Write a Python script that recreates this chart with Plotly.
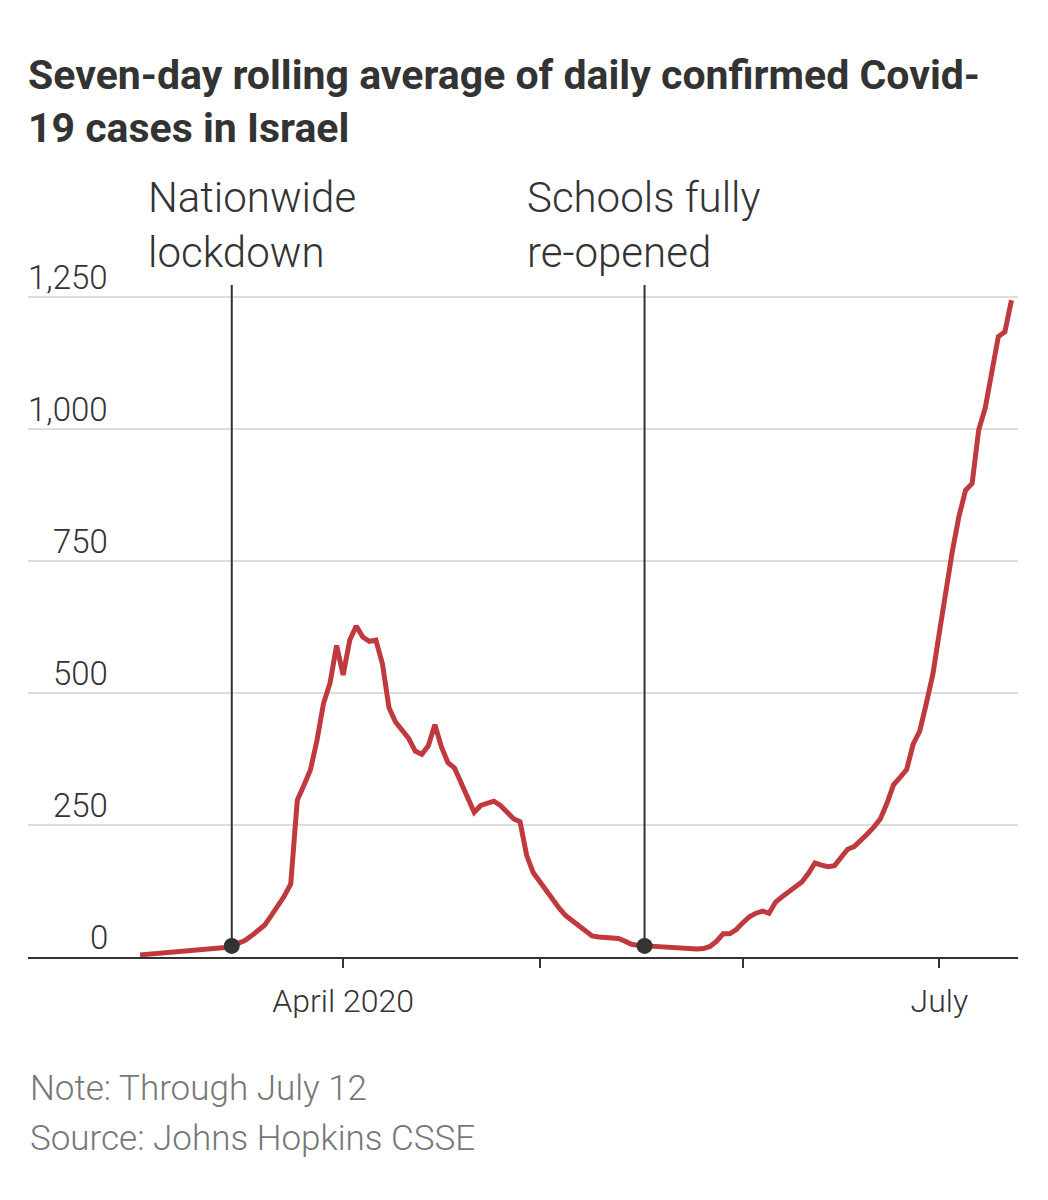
import plotly.graph_objects as go
import pandas as pd

# ---- data ----
start_date = "2020-03-01"
cases = [
    4, 5, 5, 6, 7, 8, 9, 10, 11, 12,
    13, 15, 16, 18, 21, 26, 31, 40, 50, 60,
    78, 95, 115, 138, 297, 325, 354, 410, 480, 519,
    590, 534, 600, 627, 606, 598, 600, 555, 472, 445,
    428, 414, 390, 384, 400, 440, 398, 368, 358, 330,
    300, 274, 287, 292, 295, 287, 275, 262, 256, 193,
    160, 142, 124, 106, 92, 78, 68, 60, 48, 40,
    38, 37, 37, 35, 30, 24, 22, 21, 20, 19,
    18, 17, 17, 16, 16, 15, 16, 20, 30, 44,
    44, 52, 65, 76, 83, 87, 83, 104, 114, 124,
    131, 142, 158, 178, 174, 171, 173, 190, 204, 209,
    220, 233, 246, 262, 291, 326, 340, 355, 403, 428,
    480, 535, 615, 695, 770, 835, 884, 897, 998, 1040,
    1110, 1175, 1184, 1244,
]
dates = pd.date_range(start_date, periods=len(cases), freq="D")

event_dates = ["2020-03-15", "2020-05-17"]
event_values = [21, 21]
event_labels = ["Nationwide<br>lockdown", "Schools fully<br>re-opened"]

y_ticks = [0, 250, 500, 750, 1000, 1250]
y_tick_labels = ["0", "250", "500", "750", "1,000", "1,250"]
x_ticks = ["2020-04-01", "2020-05-01", "2020-06-01", "2020-07-01"]
x_tick_labels = ["April 2020", "", "", "July"]

title_lines = ["Seven-day rolling average of daily confirmed Covid-", "19 cases in Israel"]
note_text = "Note: Through July 12"
source_text = "Source: Johns Hopkins CSSE"

# ---- geometry (page pixels; the html body adds an 8px offset) ----
OFF = 8
W, H = 1048 - OFF, 1200 - OFF
PLOT_LEFT, PLOT_RIGHT = 28, 1018          # page px
ZERO_Y, TOP_Y = 957, 294                 # page px of y=0 and top of plot
PX_PER_UNIT = 660 / 1250
L = PLOT_LEFT - OFF
R = W - (PLOT_RIGHT - OFF)
T = TOP_Y - OFF
B = H - (ZERO_Y - OFF)
PW, PH = W - L - R, H - T - B
Y_TOP = PH / PX_PER_UNIT

FONT = "Roboto, 'Noto Sans', sans-serif"
DARK = "#333333"
RED = "#c0393e"


def py_paper(page_y):
    return (ZERO_Y - page_y) / PH


def px_paper(page_x):
    return (page_x - PLOT_LEFT) / PW


fig = go.Figure()
fig.add_trace(go.Scatter(
    x=dates, y=cases, mode="lines",
    line=dict(color=RED, width=5),
    hoverinfo="skip", showlegend=False,
))

shapes = []
annotations = []
xshifts = [-86, -120]
for d, v, lab, xs in zip(event_dates, event_values, event_labels, xshifts):
    shapes.append(dict(
        type="line", xref="x", yref="paper",
        x0=d, x1=d, y0=v / Y_TOP, y1=py_paper(285),
        line=dict(color=DARK, width=2), layer="above",
    ))
    annotations.append(dict(
        xref="x", yref="paper", x=d, y=py_paper(225),
        xanchor="left", yanchor="middle", xshift=xs,
        text=lab, showarrow=False, align="left",
        font=dict(family=FONT, size=42, color=DARK, weight=300),
    ))

fig.add_trace(go.Scatter(
    x=event_dates, y=event_values, mode="markers",
    marker=dict(color=DARK, size=16),
    cliponaxis=False, hoverinfo="skip", showlegend=False,
))

for v, lab in zip(y_ticks, y_tick_labels):
    annotations.append(dict(
        xref="paper", yref="y", x=px_paper(110), y=v,
        xanchor="right", yanchor="bottom", yshift=-2,
        text=lab, showarrow=False,
        font=dict(family=FONT, size=33, color=DARK, weight=300),
    ))

for t, py in zip(title_lines, [75, 128]):
    annotations.append(dict(
        xref="paper", yref="paper", x=px_paper(26), y=py_paper(py),
        xanchor="left", yanchor="middle", text=t, showarrow=False,
        font=dict(family=FONT, size=41, color=DARK, weight=700),
    ))

for t, py in zip([note_text, source_text], [1088, 1138]):
    annotations.append(dict(
        xref="paper", yref="paper", x=px_paper(28), y=py_paper(py),
        xanchor="left", yanchor="middle", text=t, showarrow=False,
        font=dict(family=FONT, size=35, color="#777777", weight=300),
    ))

fig.update_layout(
    width=W, height=H,
    margin=dict(l=L, r=R, t=T, b=B, pad=0),
    paper_bgcolor="white", plot_bgcolor="white",
    shapes=shapes, annotations=annotations,
    xaxis=dict(
        type="date", range=["2020-02-12 21:36", "2020-07-13"],
        tickvals=x_ticks, ticktext=x_tick_labels,
        ticks="outside", ticklen=9, tickwidth=2, tickcolor=DARK,
        showline=True, linecolor=DARK, linewidth=2,
        showgrid=False, zeroline=False, ticklabelstandoff=6,
        tickfont=dict(family=FONT, size=32, color=DARK, weight=300),
        fixedrange=True,
    ),
    yaxis=dict(
        range=[0, Y_TOP], tickvals=y_ticks, showticklabels=False,
        showgrid=True, gridcolor="#dddddd", gridwidth=2,
        zeroline=False, showline=False, ticks="", fixedrange=True,
    ),
    showlegend=False,
)

fig.write_html("out.html")
